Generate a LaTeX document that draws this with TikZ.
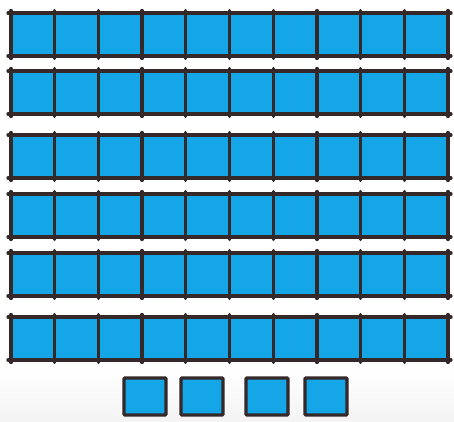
\documentclass[tikz,border=0pt]{standalone}
\usetikzlibrary{positioning}
\definecolor{rodblue}{RGB}{20,166,230}
\definecolor{rodline}{RGB}{52,40,40}

\begin{document}
\begin{tikzpicture}[
    x=1pt, y=-1pt,
    rod/.style={fill=rodblue, draw=none},
    gridline/.style={draw=rodline, line width=3.3pt, line cap=round},
    unitbox/.style={fill=rodblue, draw=rodline, line width=3.3pt, rounded corners=1pt}
]
    \useasboundingbox (0,0) rectangle (454,421);
    % --- Background ---
    \fill[white] (0,0) rectangle (454,421);
    \shade[top color=white, bottom color=gray!9] (0,368) rectangle (454,421);

    % --- Six rods of ten ---
    \foreach \t in {13,71,135,194,253,317} {
        \fill[rod] (11,\t) rectangle (448,{\t+43});
        \foreach \i in {0,...,10}
            \draw[gridline] ({11+\i*43.7},{\t-2.5}) -- ++(0,48);
        \draw[gridline] (8,\t) -- (451,\t);
        \draw[gridline] (8,{\t+43}) -- (451,{\t+43});
    }

    % --- Four units ---
    \foreach \x in {124,181,246,305}
        \draw[unitbox] (\x,378) rectangle ++(42,37);
\end{tikzpicture}
\end{document}
